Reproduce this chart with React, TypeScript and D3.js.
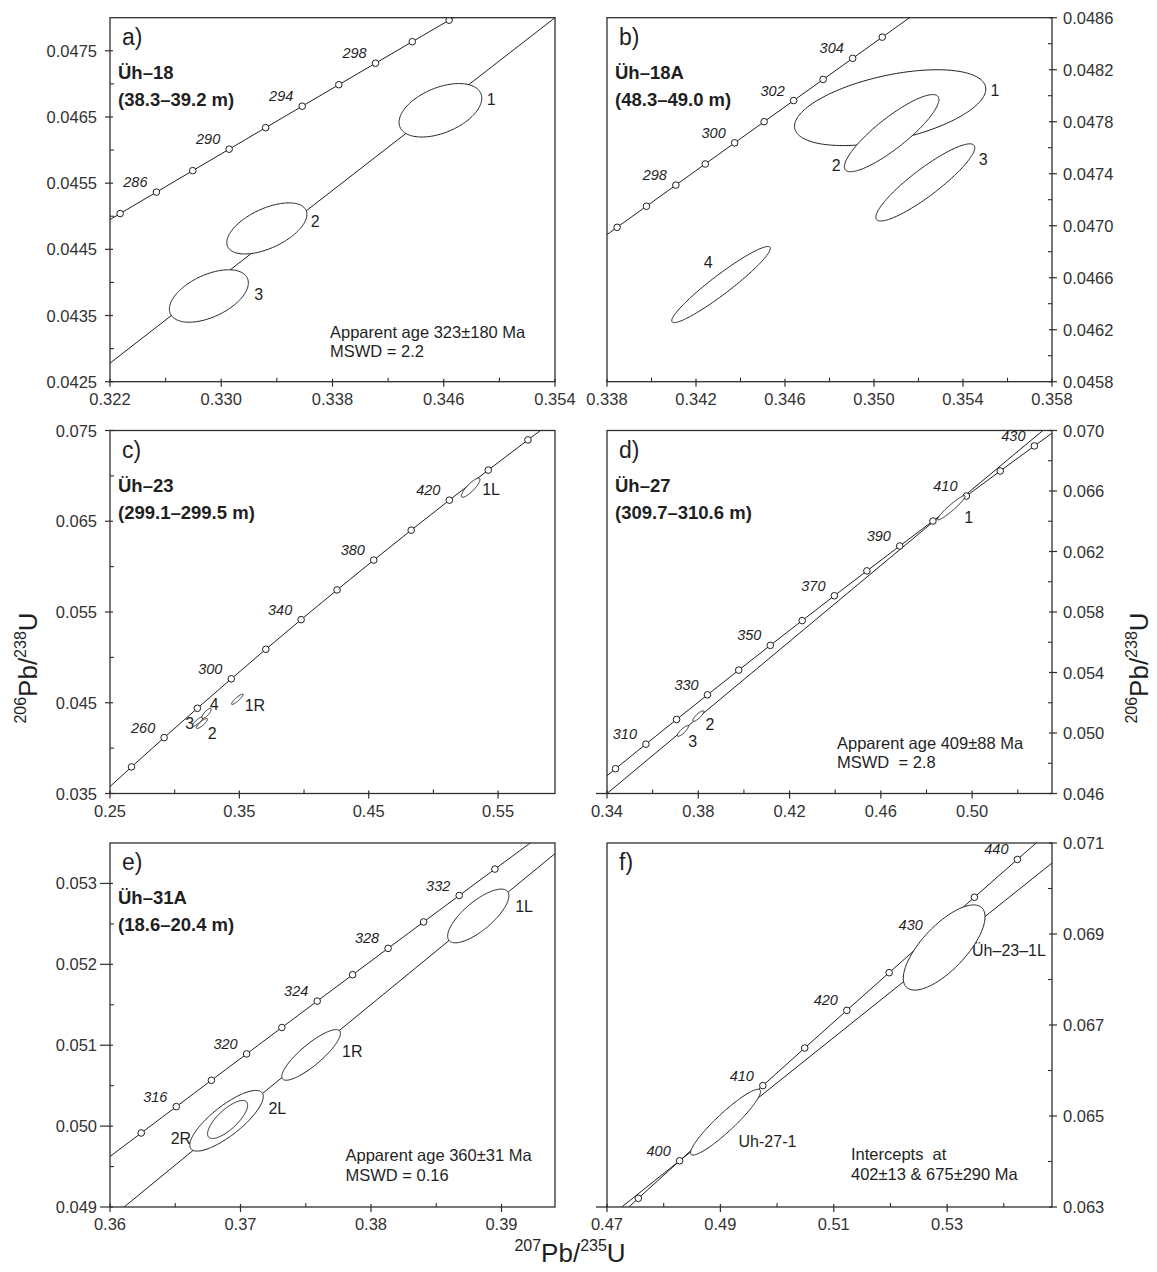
import React from "react";
import * as d3 from "d3";

// U-Pb decay constants (1/yr), used to place concordia ages
const LAMBDA_235 = 9.8485e-10;
const LAMBDA_238 = 1.55125e-10;

// ---- data ----
const panelTags = ["a)", "b)", "c)", "d)", "e)", "f)"];
const sampleNames = ["Üh–18", "Üh–18A", "Üh–23", "Üh–27", "Üh–31A", ""];
const sampleDepths = ["(38.3–39.2 m)", "(48.3–49.0 m)", "(299.1–299.5 m)", "(309.7–310.6 m)", "(18.6–20.4 m)", ""];

const xDomains = [
  [0.322, 0.354], [0.338, 0.358], [0.25, 0.594],
  [0.34, 0.535], [0.36, 0.3941], [0.47, 0.5485],
];
const yDomains = [
  [0.0425, 0.048], [0.0458, 0.0486], [0.035, 0.075],
  [0.046, 0.07], [0.049, 0.0535], [0.063, 0.071],
];
const xMajorTicks = [
  [0.322, 0.33, 0.338, 0.346, 0.354],
  [0.338, 0.342, 0.346, 0.35, 0.354, 0.358],
  [0.25, 0.35, 0.45, 0.55],
  [0.34, 0.38, 0.42, 0.46, 0.5],
  [0.36, 0.37, 0.38, 0.39],
  [0.47, 0.49, 0.51, 0.53],
];
const xMinorTicks = [
  [0.326, 0.334, 0.342, 0.35],
  [0.34, 0.344, 0.348, 0.352, 0.356],
  [0.3, 0.4, 0.5],
  [0.36, 0.4, 0.44, 0.48, 0.52],
  [0.365, 0.375, 0.385],
  [0.48, 0.5, 0.52, 0.54],
];
const yMajorTicks = [
  [0.0425, 0.0435, 0.0445, 0.0455, 0.0465, 0.0475],
  [0.0458, 0.0462, 0.0466, 0.047, 0.0474, 0.0478, 0.0482, 0.0486],
  [0.035, 0.045, 0.055, 0.065, 0.075],
  [0.046, 0.05, 0.054, 0.058, 0.062, 0.066, 0.07],
  [0.049, 0.05, 0.051, 0.052, 0.053],
  [0.063, 0.065, 0.067, 0.069, 0.071],
];
const yMinorTicks = [
  [0.043, 0.044, 0.045, 0.046, 0.047],
  [0.046, 0.0464, 0.0468, 0.0472, 0.0476, 0.048, 0.0484],
  [0.04, 0.05, 0.06, 0.07],
  [0.048, 0.052, 0.056, 0.06, 0.064, 0.068],
  [0.0495, 0.0505, 0.0515, 0.0525],
  [0.064, 0.066, 0.068, 0.07],
];
const xTickFormats = [".3f", ".3f", ".2f", ".2f", ".2f", ".2f"];
const yTickFormats = [".4f", ".4f", ".3f", ".3f", ".3f", ".3f"];

// concordia ages (Ma) with markers, and the ones carrying a label
const concordiaAges = [
  [282, 284, 286, 288, 290, 292, 294, 296, 298, 300, 302, 304],
  [295, 296, 297, 298, 299, 300, 301, 302, 303, 304, 305, 306],
  [220, 240, 260, 280, 300, 320, 340, 360, 380, 400, 420, 440, 460, 480],
  [290, 300, 310, 320, 330, 340, 350, 360, 370, 380, 390, 400, 410, 420, 430, 440],
  [310, 312, 314, 316, 318, 320, 322, 324, 326, 328, 330, 332, 334, 336, 338],
  [390, 395, 400, 405, 410, 415, 420, 425, 430, 435, 440, 445],
];
const labelledAges = [
  [286, 290, 294, 298],
  [298, 300, 302, 304],
  [260, 300, 340, 380, 420],
  [310, 330, 350, 370, 390, 410, 430],
  [316, 320, 324, 328, 332],
  [400, 410, 420, 430, 440],
];

// discordia end points
const discordiaX = [[0.322, 0.354], [], [], [0.34, 0.531], [0.36108, 0.39412], [0.4726, 0.5485]];
const discordiaY = [[0.04278, 0.048], [], [], [0.046, 0.07], [0.049, 0.053371], [0.063, 0.07056]];

// error ellipses: centre, half extents and correlation
const ellipseNames = [
  ["1", "2", "3"],
  ["1", "2", "3", "4"],
  ["1L", "1R", "3", "2", "4"],
  ["1", "2", "3"],
  ["1L", "1R", "2L", "2R"],
  ["Uh-27-1", "Üh–23–1L"],
];
const ellipseX = [
  [0.34576, 0.33328, 0.32911],
  [0.350727, 0.350793, 0.352306, 0.343124],
  [0.5288, 0.34842, 0.31791, 0.32106, 0.32464],
  [0.49089, 0.38, 0.37323],
  [0.38822, 0.37541, 0.36893, 0.36901],
  [0.49091, 0.52948],
];
const ellipseY = [
  [0.046601, 0.044816, 0.043795],
  [0.047908, 0.047712, 0.047333, 0.046547],
  [0.068695, 0.045386, 0.042941, 0.04272, 0.043824],
  [0.06489, 0.05112, 0.05013],
  [0.052598, 0.05088, 0.050066, 0.050082],
  [0.064864, 0.068703],
];
const ellipseSX = [
  [0.002973, 0.00288, 0.00284],
  [0.004298, 0.002124, 0.002223, 0.002215],
  [0.00716, 0.00444, 0.004, 0.0043, 0.00358],
  [0.00605, 0.00242, 0.00242],
  [0.002346, 0.002246, 0.002815, 0.001535],
  [0.006169, 0.007208],
];
const ellipseSY = [
  [0.000404, 0.000386, 0.000396],
  [0.0002916, 0.0002967, 0.0002967, 0.0002928],
  [0.001048, 0.00057, 0.0005, 0.00055, 0.00055],
  [0.000802, 0.00035, 0.00035],
  [0.000332, 0.000313, 0.000375, 0.000235],
  [0.000723, 0.000936],
];
const ellipseRho = [
  [0.45, 0.55, 0.5],
  [0.49, 0.87, 0.9, 0.95],
  [0.85, 0.9, 0.85, 0.85, 0.8],
  [0.95, 0.85, 0.85],
  [0.75, 0.85, 0.8, 0.75],
  [0.93, 0.72],
];
const ellipseLabelX = [
  [0.34941, 0.33675, 0.33269],
  [0.35544, 0.3483, 0.35491, 0.34255],
  [0.54456, 0.36203, 0.3116, 0.32908, 0.33052],
  [0.49855, 0.38516, 0.37758],
  [0.39173, 0.37857, 0.37282, 0.36543],
  [0.49831, 0.54091],
];
const ellipseLabelY = [
  [0.046778, 0.04493, 0.04383],
  [0.048047, 0.047466, 0.047514, 0.046722],
  [0.068566, 0.044743, 0.042721, 0.041691, 0.044853],
  [0.06431, 0.05059, 0.04949],
  [0.05272, 0.05093, 0.050227, 0.049856],
  [0.064457, 0.068648],
];

const notes = [
  ["Apparent age 323±180 Ma", "MSWD = 2.2"],
  [],
  [],
  ["Apparent age 409±88 Ma", "MSWD  = 2.8"],
  ["Apparent age 360±31 Ma", "MSWD = 0.16"],
  ["Intercepts  at", "402±13 & 675±290 Ma"],
];

// ---- layout ----
const colLeft = [110, 607];
const rowTop = [17.7, 430.5, 843];
const rowHeight = [364, 363, 364];
const plotWidth = 445;
const noteOffset = [[220, 314], [0, 0], [0, 0], [230, 312], [235.5, 312], [244, 311]];

const FONT = "'Liberation Sans', Arial, Helvetica, sans-serif";
const INK = "#1f1f1f";
const AXIS = "#2e2e2e";

const toConcordia = (age: number) => [
  Math.expm1(LAMBDA_235 * age * 1e6),
  Math.expm1(LAMBDA_238 * age * 1e6),
];

function Panel({ i }: { i: number }) {
  const col = i % 2;
  const row = Math.floor(i / 2);
  const left = colLeft[col];
  const top = rowTop[row];
  const right = left + plotWidth;
  const bottom = top + rowHeight[row];
  const x = d3.scaleLinear().domain(xDomains[i]).range([left, right]);
  const y = d3.scaleLinear().domain(yDomains[i]).range([bottom, top]);
  const onRight = col === 1;
  const axisX = onRight ? right : left;
  const dir = onRight ? 1 : -1;
  const majorOut = i === 4 ? 10 : 5;
  const fx = d3.format(xTickFormats[i]);
  const fy = d3.format(yTickFormats[i]);
  const clipId = `plot-clip-${i}`;
  const line = d3.line<number[]>().x((d) => x(d[0])).y((d) => y(d[1]));
  const [x0, x1] = xDomains[i];
  const [y0, y1] = yDomains[i];
  const inside = (p: number[]) => p[0] >= x0 && p[0] <= x1 && p[1] >= y0 && p[1] <= y1;

  const concPts = concordiaAges[i].map(toConcordia);
  const markers = concordiaAges[i].map(toConcordia).filter(inside);

  const thetas = d3.range(0, 2 * Math.PI, Math.PI / 90);
  const ellipsePath = (k: number) => {
    const cx = ellipseX[i][k], cy = ellipseY[i][k];
    const sx = ellipseSX[i][k], sy = ellipseSY[i][k], r = ellipseRho[i][k];
    const q = Math.sqrt(1 - r * r);
    const pts = thetas.map((t) => [cx + sx * Math.cos(t), cy + sy * (r * Math.cos(t) + q * Math.sin(t))]);
    return d3.line<number[]>().x((d) => x(d[0])).y((d) => y(d[1])).curve(d3.curveLinearClosed)(pts) || "";
  };

  const extendLeft = i === 3 || i === 5 ? 11 : 0;

  return (
    <g>
      <defs>
        <clipPath id={clipId}>
          <rect x={left} y={top} width={plotWidth} height={bottom - top} />
        </clipPath>
      </defs>

      <g clipPath={`url(#${clipId})`}>
        {discordiaX[i].length > 0 && (
          <path
            d={line(discordiaX[i].map((v, k) => [v, discordiaY[i][k]])) || ""}
            fill="none"
            stroke={INK}
            strokeWidth={1}
          />
        )}
        <path d={line(concPts) || ""} fill="none" stroke={INK} strokeWidth={1} />
        {markers.map((p, k) => (
          <circle key={k} cx={x(p[0])} cy={y(p[1])} r={3.3} fill="#fff" stroke={INK} strokeWidth={1} />
        ))}
        {ellipseNames[i].map((name, k) => (
          <text
            key={`l${k}`}
            x={x(ellipseLabelX[i][k])}
            y={y(ellipseLabelY[i][k]) + 6}
            textAnchor="middle"
            fontSize={16}
            fill={INK}
          >
            {name}
          </text>
        ))}
        {ellipseNames[i].map((name, k) => (
          <path key={`e${k}`} d={ellipsePath(k)} fill="#fff" stroke={INK} strokeWidth={1} />
        ))}
        {labelledAges[i].map((age) => {
          const p = toConcordia(age);
          return (
            <text
              key={age}
              x={x(p[0]) - 21}
              y={y(p[1]) - 10 + 5}
              textAnchor="middle"
              fontSize={14.5}
              fontStyle="italic"
              fill={INK}
            >
              {age}
            </text>
          );
        })}
      </g>

      {/* frame */}
      <rect x={left} y={top} width={plotWidth} height={bottom - top} fill="none" stroke={AXIS} strokeWidth={1.3} />
      {extendLeft > 0 && (
        <line x1={left - extendLeft} x2={left} y1={bottom} y2={bottom} stroke={AXIS} strokeWidth={1.3} />
      )}

      {/* x axis */}
      {xMajorTicks[i].map((v) => (
        <g key={`xm${v}`}>
          <line x1={x(v)} x2={x(v)} y1={bottom - 3} y2={bottom + 5} stroke={AXIS} strokeWidth={1.2} />
          <text x={x(v)} y={bottom + 23} textAnchor="middle" fontSize={16.5} fill="#333">
            {fx(v)}
          </text>
        </g>
      ))}
      {xMinorTicks[i].map((v) => (
        <line key={`xn${v}`} x1={x(v)} x2={x(v)} y1={bottom - 4} y2={bottom} stroke={AXIS} strokeWidth={1.1} />
      ))}

      {/* y axis */}
      {yMajorTicks[i].map((v) => (
        <g key={`ym${v}`}>
          <line
            x1={axisX - dir * 3}
            x2={axisX + dir * majorOut}
            y1={y(v)}
            y2={y(v)}
            stroke={AXIS}
            strokeWidth={1.2}
          />
          <text
            x={onRight ? axisX + 11 : axisX - 13}
            y={y(v) + 6}
            textAnchor={onRight ? "start" : "end"}
            fontSize={16.5}
            fill="#333"
          >
            {fy(v)}
          </text>
        </g>
      ))}
      {yMinorTicks[i].map((v) => (
        <line key={`yn${v}`} x1={axisX} x2={axisX - dir * 4} y1={y(v)} y2={y(v)} stroke={AXIS} strokeWidth={1.1} />
      ))}

      {/* panel tag and sample */}
      <text x={left + 12} y={top + 27} fontSize={23} fill={INK}>
        {panelTags[i]}
      </text>
      {sampleNames[i] && (
        <>
          <text x={left + 8} y={top + 61} fontSize={18.5} fontWeight="bold" fill={INK}>
            {sampleNames[i]}
          </text>
          <text x={left + 8} y={top + 88} fontSize={18.5} fontWeight="bold" fill={INK}>
            {sampleDepths[i]}
          </text>
        </>
      )}

      {notes[i].map((t, k) => (
        <text
          key={`n${k}`}
          x={left + noteOffset[i][0]}
          y={top + noteOffset[i][1] + k * 19.5 + 6}
          fontSize={16.5}
          fill={INK}
          style={{ whiteSpace: "pre" }}
        >
          {t}
        </text>
      ))}
    </g>
  );
}

function RatioLabel({ top, bottom }: { top: string; bottom: string }) {
  return (
    <>
      <tspan fontSize={16} dy={-11}>{top}</tspan>
      <tspan fontSize={26} dy={11}>Pb/</tspan>
      <tspan fontSize={16} dy={-11}>{bottom}</tspan>
      <tspan fontSize={26} dy={11}>U</tspan>
    </>
  );
}

export default function App() {
  return (
    <svg
      width={1157}
      height={1272}
      style={{ position: "absolute", left: 0, top: 0, background: "#fff" }}
      fontFamily={FONT}
    >
      <rect width={1157} height={1272} fill="#fff" />
      {panelTags.map((_, i) => (
        <Panel key={i} i={i} />
      ))}
      <text transform="translate(37,668) rotate(-90)" textAnchor="middle" fill={INK}>
        <RatioLabel top="206" bottom="238" />
      </text>
      <text transform="translate(1148,668) rotate(-90)" textAnchor="middle" fill={INK}>
        <RatioLabel top="206" bottom="238" />
      </text>
      <text x={570} y={1262} textAnchor="middle" fill={INK}>
        <RatioLabel top="207" bottom="235" />
      </text>
    </svg>
  );
}
